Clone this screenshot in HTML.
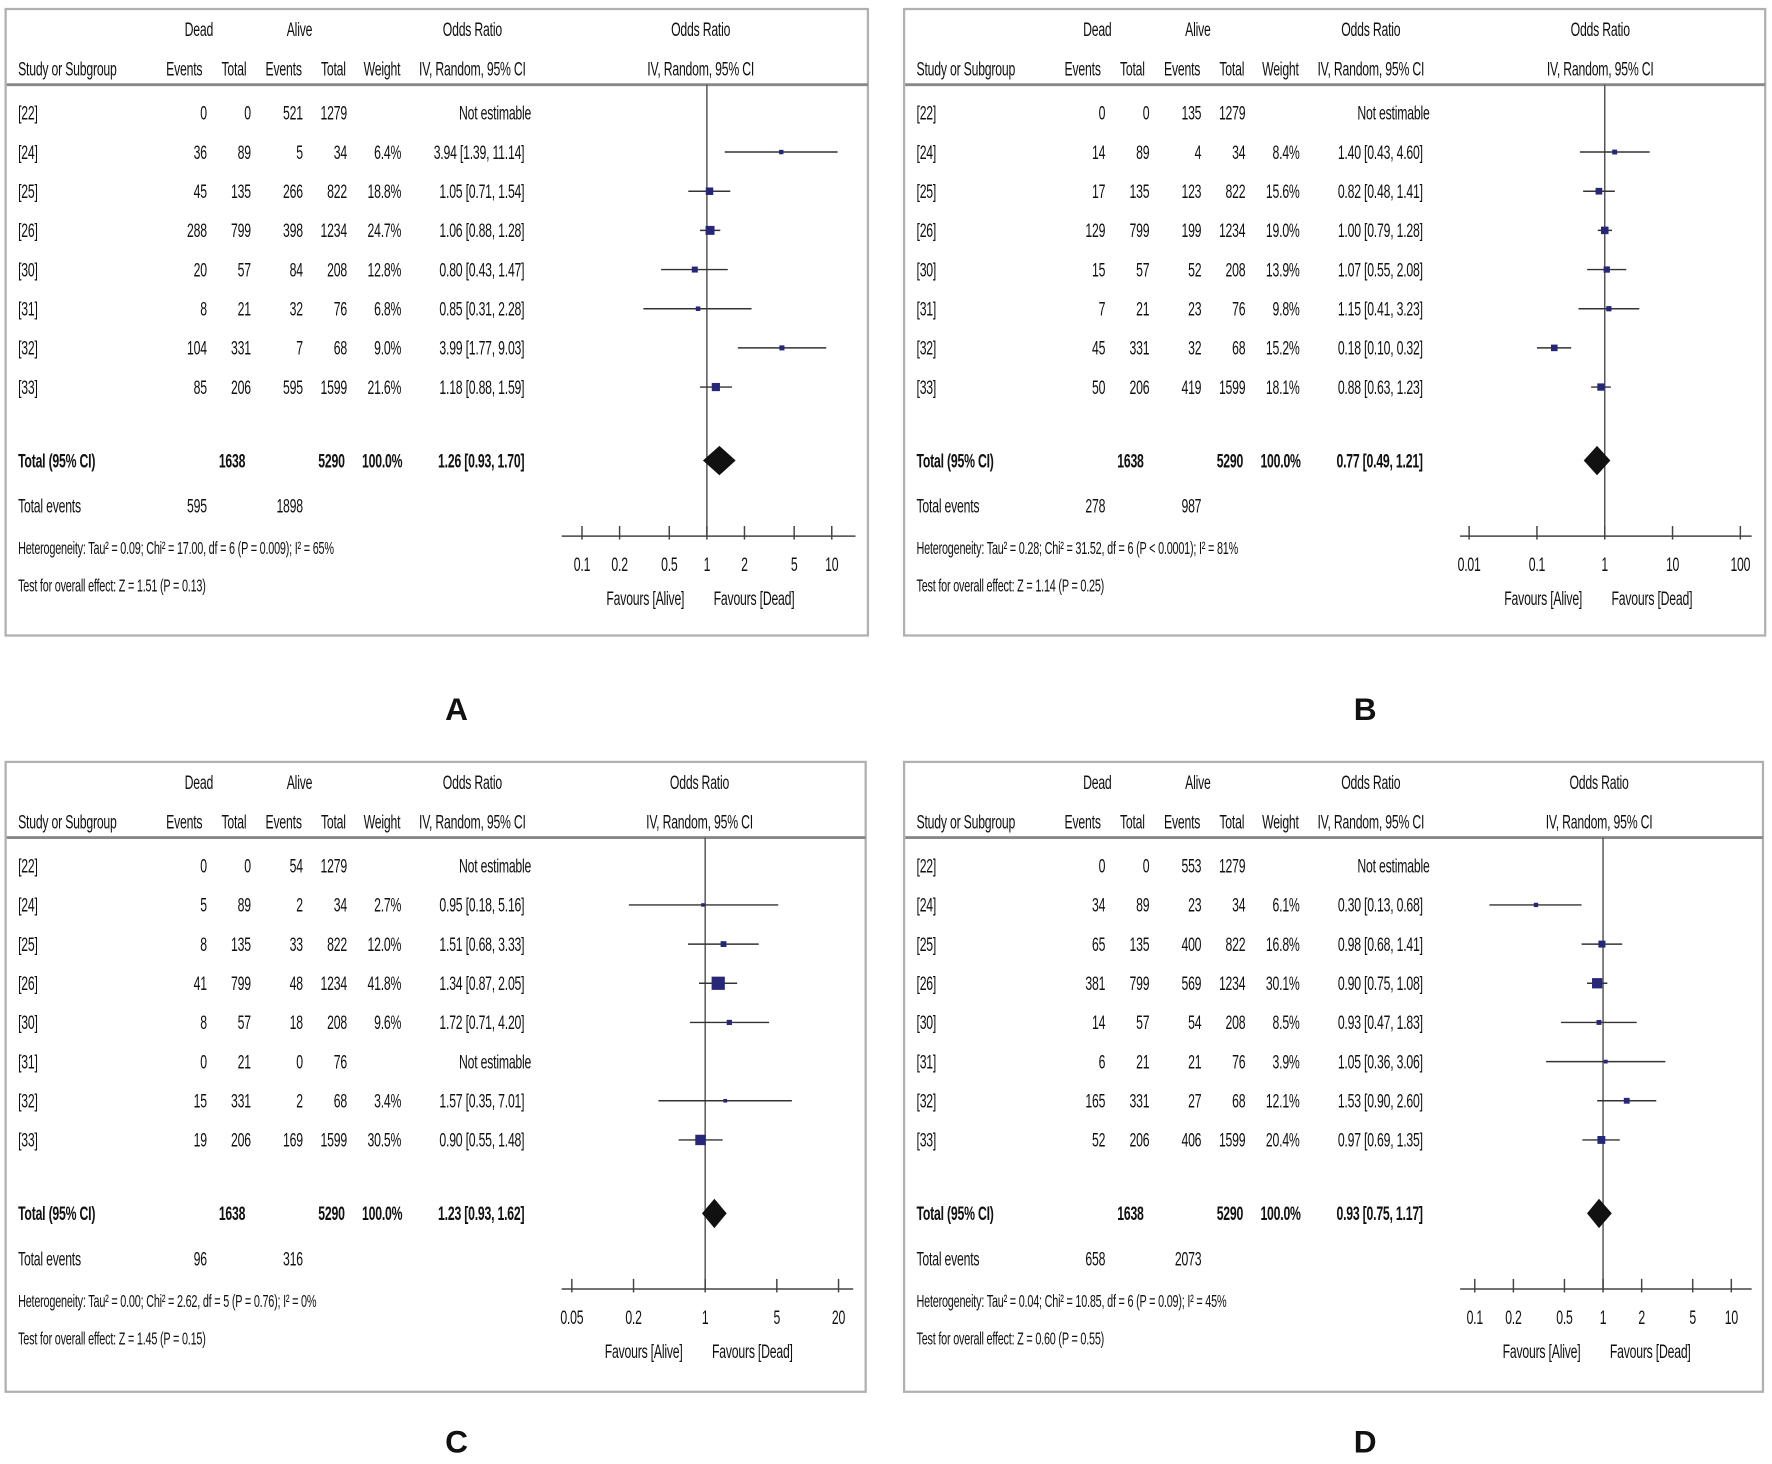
<!DOCTYPE html>
<html><head><meta charset="utf-8"><style>
html,body{margin:0;padding:0;background:#fff;}
svg{display:block;}
text{font-family:"Liberation Sans",sans-serif;fill:#111;}
</style></head><body>
<svg id="fig" width="1772" height="1464" viewBox="0 0 1568 1297" preserveAspectRatio="none" xmlns="http://www.w3.org/2000/svg"></svg>
<script>
// shared
const studies = ["[22]","[24]","[25]","[26]","[30]","[31]","[32]","[33]"];
const deadTotals = [0,89,135,799,57,21,331,206];
const aliveTotals = [1279,34,822,1234,208,76,68,1599];
// Panel A
const aDeadEv=[0,36,45,288,20,8,104,85];
const aAliveEv=[521,5,266,398,84,32,7,595];
const aWeight=[null,6.4,18.8,24.7,12.8,6.8,9.0,21.6];
const aOR=[null,3.94,1.05,1.06,0.80,0.85,3.99,1.18];
const aLo=[null,1.39,0.71,0.88,0.43,0.31,1.77,0.88];
const aHi=[null,11.14,1.54,1.28,1.47,2.28,9.03,1.59];
const aTotal=[1.26,0.93,1.70];
const aEvents=[595,1898];
const aTicks=[0.1,0.2,0.5,1,2,5,10];
const aTickLabels=["0.1","0.2","0.5","1","2","5","10"];
// Panel B
const bDeadEv=[0,14,17,129,15,7,45,50];
const bAliveEv=[135,4,123,199,52,23,32,419];
const bWeight=[null,8.4,15.6,19.0,13.9,9.8,15.2,18.1];
const bOR=[null,1.40,0.82,1.00,1.07,1.15,0.18,0.88];
const bLo=[null,0.43,0.48,0.79,0.55,0.41,0.10,0.63];
const bHi=[null,4.60,1.41,1.28,2.08,3.23,0.32,1.23];
const bTotal=[0.77,0.49,1.21];
const bEvents=[278,987];
const bTicks=[0.01,0.1,1,10,100];
const bTickLabels=["0.01","0.1","1","10","100"];
// Panel C
const cDeadEv=[0,5,8,41,8,0,15,19];
const cAliveEv=[54,2,33,48,18,0,2,169];
const cWeight=[null,2.7,12.0,41.8,9.6,null,3.4,30.5];
const cOR=[null,0.95,1.51,1.34,1.72,null,1.57,0.90];
const cLo=[null,0.18,0.68,0.87,0.71,null,0.35,0.55];
const cHi=[null,5.16,3.33,2.05,4.20,null,7.01,1.48];
const cTotal=[1.23,0.93,1.62];
const cEvents=[96,316];
const cTicks=[0.05,0.2,1,5,20];
const cTickLabels=["0.05","0.2","1","5","20"];
// Panel D
const dDeadEv=[0,34,65,381,14,6,165,52];
const dAliveEv=[553,23,400,569,54,21,27,406];
const dWeight=[null,6.1,16.8,30.1,8.5,3.9,12.1,20.4];
const dOR=[null,0.30,0.98,0.90,0.93,1.05,1.53,0.97];
const dLo=[null,0.13,0.68,0.75,0.47,0.36,0.90,0.69];
const dHi=[null,0.68,1.41,1.08,1.83,3.06,2.60,1.35];
const dTotal=[0.93,0.75,1.17];
const dEvents=[658,2073];
const dTicks=[0.1,0.2,0.5,1,2,5,10];
const dTickLabels=["0.1","0.2","0.5","1","2","5","10"];

const NS="http://www.w3.org/2000/svg";
const svg=document.getElementById('fig');
const SX=0.62;
function mk(tag,attrs,parent){const e=document.createElementNS(NS,tag);for(const k in attrs)e.setAttribute(k,attrs[k]);parent.appendChild(e);return e;}
function f2(v){return v.toFixed(2);}

function panel(cfg){
  const g=mk('g',{transform:`translate(${cfg.dx},${cfg.dy})`},svg);
  
  
  const fr=mk('rect',{x:5,y:8,width:cfg.w,height:cfg.h,fill:'none',stroke:'#b0b0b0','stroke-width':2},g);
  
  
  const tg=mk('g',{transform:`scale(${SX},1)`},g);
  function t(x,y,s,anchor,bold,size,name){
    const e=mk('text',{x:x/SX,y:y+6,'text-anchor':anchor||'start','font-size':size||17.5,'font-weight':bold?'bold':'normal','letter-spacing':'-0.3'},tg);
    e.textContent=s;
    
    
    return e;
  }
  t(176,26,"Dead","middle",false,17.5,'dead-header');
  t(265,26,"Alive","middle",false,17.5,'alive-header');
  t(418,26,"Odds Ratio","middle",false,17.5,'or-header');
  t(cfg.x1-5,26,"Odds Ratio","middle",false,17.5,'plot-header');
  t(16,61,"Study or Subgroup","start",false,17.5,'study-header');
  t(163,61,"Events","middle",false,17.5,'dead-events-header');
  t(207,61,"Total","middle",false,17.5,'dead-total-header');
  t(251,61,"Events","middle",false,17.5,'alive-events-header');
  t(295,61,"Total","middle",false,17.5,'alive-total-header');
  t(338,61,"Weight","middle",false,17.5,'weight-header');
  t(418,61,"IV, Random, 95% CI","middle",false,17.5,'or-method-header');
  t(cfg.x1-5,61,"IV, Random, 95% CI","middle",false,17.5,'plot-method-header');
  const sep=mk('line',{x1:6,x2:5+cfg.w,y1:75,y2:75,stroke:'#888','stroke-width':2.5},g);
  
  
  const lmin=Math.log10(cfg.ticks[0]),lmax=Math.log10(cfg.ticks[cfg.ticks.length-1]);
  const X=v=>cfg.xa+(Math.log10(v)-lmin)/(lmax-lmin)*(cfg.xb-cfg.xa);
  const x1=X(1);
  const vl=mk('line',{x1:x1,x2:x1,y1:75,y2:475,stroke:'#555','stroke-width':1.3},g);
  
  
  const rowY=i=>100+i*34.7;
  for(let i=0;i<studies.length;i++){
    const y=rowY(i);
    t(16,y,studies[i],"start",false,17.5,'study-label');
    t(183,y,String(cfg.dEv[i]),"end",false,17.5,'dead-events');
    t(222,y,String(i===0?0:deadTotals[i]),"end",false,17.5,'dead-total');
    t(268,y,String(cfg.aEv[i]),"end",false,17.5,'alive-events');
    t(307,y,String(aliveTotals[i]),"end",false,17.5,'alive-total');
    if(cfg.or[i]==null){
      t(470,y,"Not estimable","end",false,17.5,'not-estimable');
      continue;
    }
    t(355,y,cfg.wt[i].toFixed(1)+"%","end",false,17.5,'weight-value');
    t(464,y,`${f2(cfg.or[i])} [${f2(cfg.lo[i])}, ${f2(cfg.hi[i])}]`,"end",false,17.5,'or-ci-value');
    const ci=mk('line',{x1:X(cfg.lo[i]),x2:X(cfg.hi[i]),y1:y,y2:y,stroke:'#333','stroke-width':1.3},g);
    
    
    const s=2.5+cfg.wt[i]*0.22;
    const sq=mk('rect',{x:X(cfg.or[i])-s/2,y:y-s/2,width:s,height:s,fill:'#27277a'},g);
    
    
  }
  t(16,408,"Total (95% CI)","start",true,17.5,'total-label');
  t(217,408,"1638","end",true,17.5,'dead-total-sum');
  t(305,408,"5290","end",true,17.5,'alive-total-sum');
  t(356,408,"100.0%","end",true,17.5,'total-weight');
  t(464,408,`${f2(cfg.tot[0])} [${f2(cfg.tot[1])}, ${f2(cfg.tot[2])}]`,"end",true,17.5,'total-or');
  const dm=mk('polygon',{points:`${X(cfg.tot[1])},408 ${X(cfg.tot[0])},395 ${X(cfg.tot[2])},408 ${X(cfg.tot[0])},421`,fill:'#111'},g);
  
  
  t(16,448,"Total events","start",false,17.5,'total-events-label');
  t(183,448,String(cfg.ev[0]),"end",false,17.5,'dead-total-events');
  t(268,448,String(cfg.ev[1]),"end",false,17.5,'alive-total-events');
  t(16,485,cfg.het,"start",false,15.5,'heterogeneity-text');
  t(16,518,cfg.test,"start",false,15.5,'overall-effect-text');
  const ax=mk('line',{x1:cfg.axL,x2:cfg.axR,y1:475,y2:475,stroke:'#444','stroke-width':1.3},g);
  
  
  cfg.ticks.forEach((v,k)=>{
    const tk=mk('line',{x1:X(v),x2:X(v),y1:466,y2:478,stroke:'#444','stroke-width':1.3},g);
    
    
    t(X(v),500,cfg.tickLabels[k],"middle",false,17.5,'x-tick-label');
  });
  t(x1-20,530,"Favours [Alive]","end",false,17.5,'favours-alive');
  t(x1+6,530,"Favours [Dead]","start",false,17.5,'favours-dead');
  const L=mk('text',{x:cfg.lx,y:cfg.ly,'text-anchor':'middle','font-size':28,'font-weight':'bold'},svg);
  L.textContent=cfg.id;
  
  
}
panel({id:'A',dx:0,dy:0,w:763,h:555,xa:515,xb:736,axL:497,axR:757,x1:625,ticks:aTicks,tickLabels:aTickLabels,dEv:aDeadEv,aEv:aAliveEv,wt:aWeight,or:aOR,lo:aLo,hi:aHi,tot:aTotal,ev:aEvents,lx:404,ly:638,
 het:"Heterogeneity: Tau² = 0.09; Chi² = 17.00, df = 6 (P = 0.009); I² = 65%",test:"Test for overall effect: Z = 1.51 (P = 0.13)"});
panel({id:'B',dx:795,dy:0,w:762,h:555,xa:505,xb:745,axL:497,axR:755,x1:626,ticks:bTicks,tickLabels:bTickLabels,dEv:bDeadEv,aEv:bAliveEv,wt:bWeight,or:bOR,lo:bLo,hi:bHi,tot:bTotal,ev:bEvents,lx:1208,ly:638,
 het:"Heterogeneity: Tau² = 0.28; Chi² = 31.52, df = 6 (P < 0.0001); I² = 81%",test:"Test for overall effect: Z = 1.14 (P = 0.25)"});
panel({id:'C',dx:0,dy:667,w:761,h:558,xa:506,xb:742,axL:497,axR:755,x1:624,ticks:cTicks,tickLabels:cTickLabels,dEv:cDeadEv,aEv:cAliveEv,wt:cWeight,or:cOR,lo:cLo,hi:cHi,tot:cTotal,ev:cEvents,lx:404,ly:1287,
 het:"Heterogeneity: Tau² = 0.00; Chi² = 2.62, df = 5 (P = 0.76); I² = 0%",test:"Test for overall effect: Z = 1.45 (P = 0.15)"});
panel({id:'D',dx:795,dy:667,w:760,h:558,xa:510,xb:737,axL:497,axR:755,x1:625,ticks:dTicks,tickLabels:dTickLabels,dEv:dDeadEv,aEv:dAliveEv,wt:dWeight,or:dOR,lo:dLo,hi:dHi,tot:dTotal,ev:dEvents,lx:1208,ly:1287,
 het:"Heterogeneity: Tau² = 0.04; Chi² = 10.85, df = 6 (P = 0.09); I² = 45%",test:"Test for overall effect: Z = 0.60 (P = 0.55)"});
</script>
</body></html>
